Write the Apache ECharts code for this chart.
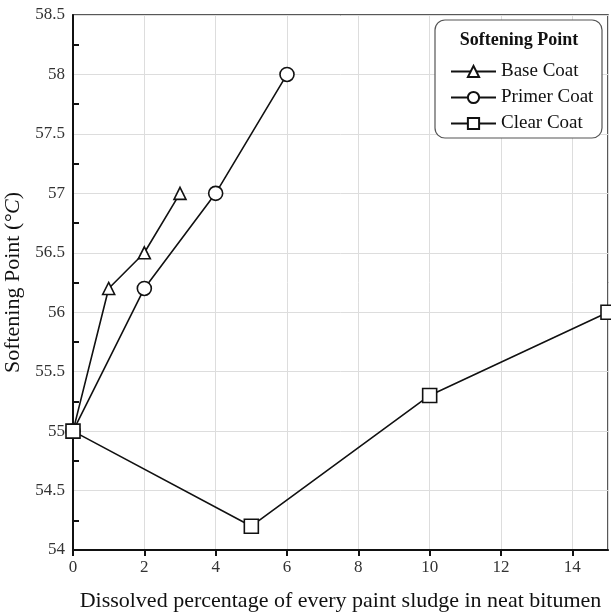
<!DOCTYPE html>
<html>
<head>
<meta charset="utf-8">
<script src="https://cdn.jsdelivr.net/npm/echarts@6/dist/echarts.min.js"></script>
<style>
  html, body { margin: 0; padding: 0; background: #fff; }
  #chart { width: 611px; height: 613px; }
</style>
</head>
<body>
<div id="chart"></div>
<script>
// data
const baseX = [0, 1, 2, 3]
const baseY = [55, 56.2, 56.5, 57]
const primerX = [0, 2, 4, 6]
const primerY = [55, 56.2, 57, 58]
const clearX = [0, 5, 10, 15]
const clearY = [55, 54.2, 55.3, 56]

// small inner ticks on the y axis, between the labels
const yMinorTicks = [54.25, 54.75, 55.25, 55.75, 56.25, 56.75, 57.25, 57.75, 58.25]

const FONT = '"Liberation Serif", "DejaVu Serif", serif'

function pairs(xs, ys) {
  return xs.map((x, i) => [x, ys[i]])
}

const chart = echarts.init(document.getElementById('chart'))

function lineSeries(name, symbol, xs, ys, size) {
  return {
    name: name,
    type: 'line',
    symbol: symbol,
    symbolSize: size,
    showAllSymbol: true,
    data: pairs(xs, ys),
    lineStyle: { color: '#111', width: 1.6 },
    itemStyle: { color: '#fff', borderColor: '#111', borderWidth: 1.6 },
    emphasis: { disabled: true },
    z: 3
  }
}

const option = {
  animation: false,
  backgroundColor: '#fff',
  grid: {
    left: 73,
    right: 3,
    top: 15,
    bottom: 63,
    outerBoundsMode: 'none',
    containLabel: false,
    show: true,
    borderColor: '#222',
    borderWidth: 1.5
  },
  xAxis: {
    type: 'value',
    min: 0,
    max: 15,
    interval: 2,
    name: 'Dissolved percentage of every paint sludge in neat bitumen',
    nameLocation: 'middle',
    nameGap: 40,
    nameTextStyle: { fontFamily: FONT, fontSize: 22, color: '#111' },
    axisLine: { show: true, onZero: false, lineStyle: { color: '#111', width: 2 } },
    axisTick: { show: true, inside: false, length: 6, lineStyle: { color: '#111', width: 2 } },
    axisLabel: {
      fontFamily: FONT, fontSize: 17, color: '#333', margin: 9,
      showMaxLabel: false
    },
    splitLine: { show: true, lineStyle: { color: '#ddd', width: 1 } }
  },
  yAxis: [
    {
      type: 'value',
      min: 54,
      max: 58.5,
      interval: 0.5,
      name: '{n|Softening Point (}{i|°C}{n|)}',
      nameLocation: 'middle',
      nameGap: 42,
      nameTextStyle: {
        rich: {
          n: { fontFamily: FONT, fontSize: 22, color: '#111' },
          i: { fontFamily: FONT, fontSize: 22, color: '#111', fontStyle: 'italic' }
        }
      },
      axisLine: { show: true, onZero: false, lineStyle: { color: '#111', width: 2 } },
      axisTick: { show: false },
      axisLabel: { fontFamily: FONT, fontSize: 17, color: '#333', margin: 8 },
      splitLine: { show: true, lineStyle: { color: '#ddd', width: 1 } }
    },
    {
      // only carries the inner ticks
      type: 'value',
      position: 'left',
      min: 54,
      max: 58.5,
      interval: 0.5,
      axisLine: { show: false, onZero: false },
      axisTick: {
        show: true,
        inside: true,
        length: 6,
        customValues: yMinorTicks,
        lineStyle: { color: '#111', width: 2 }
      },
      axisLabel: { show: false },
      splitLine: { show: false }
    }
  ],
  legend: {
    orient: 'vertical',
    left: 445,
    top: 57,
    z: 20,
    itemWidth: 45,
    itemHeight: 14,
    itemGap: 7,
    textStyle: { fontFamily: FONT, fontSize: 19, color: '#111' },
    data: ['Base Coat', 'Primer Coat', 'Clear Coat']
  },
  graphic: [
    {
      type: 'rect',
      shape: { x: 435, y: 20, width: 167, height: 118, r: 10 },
      style: { fill: '#fff', stroke: '#555', lineWidth: 1.2 },
      z: 10
    },
    {
      type: 'text',
      x: 519,
      y: 31,
      style: {
        text: 'Softening Point',
        font: 'bold 18px ' + FONT,
        fill: '#111',
        textAlign: 'center'
      },
      z: 11
    }
  ],
  series: [
    lineSeries('Base Coat', 'triangle', baseX, baseY, 12),
    lineSeries('Primer Coat', 'circle', primerX, primerY, 14),
    lineSeries('Clear Coat', 'rect', clearX, clearY, 14)
  ]
}

chart.setOption(option)
</script>
</body>
</html>
